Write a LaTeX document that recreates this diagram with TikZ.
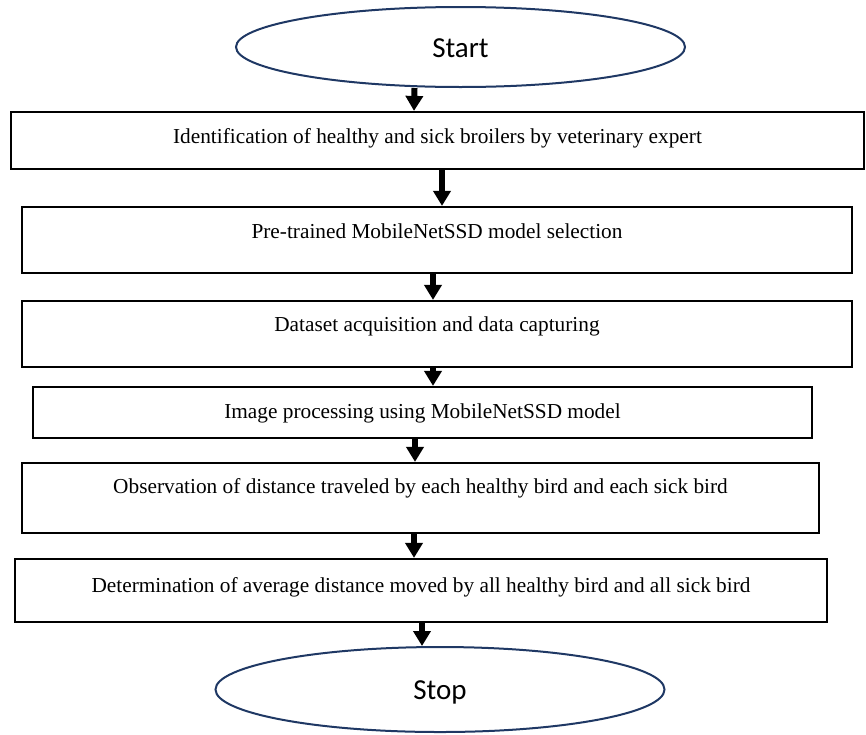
\documentclass[tikz,border=0pt]{standalone}
\usepackage{fontspec}
\setmainfont{Liberation Serif}
\newfontfamily\calibrifont{Carlito}
\usetikzlibrary{shapes.geometric, arrows.meta}
\definecolor{ovalblue}{HTML}{1F3864}

\begin{document}
\begin{tikzpicture}[x=1pt, y=-1pt,
    box/.style={draw, line width=2.2pt, inner sep=0pt, text height=15pt, font=\fontsize{21.3}{25}\selectfont},
    oval/.style={ellipse, draw=ovalblue, line width=2pt, inner sep=0pt, text height=20pt, text depth=0pt, font=\calibrifont\fontsize{29}{33}\selectfont},
    flow/.style={-{Triangle[width=17pt, length=15pt]}, line width=6pt}]
  \useasboundingbox (0,0) rectangle (866,734);
  \node[oval, minimum width=449pt, minimum height=80pt] (start) at (460.5,47) {Start};
  \node[box, minimum width=853pt, minimum height=57pt, text depth=10pt] (ident) at (437.5,140.5) {Identification of healthy and sick broilers by veterinary expert};
  \node[box, minimum width=830pt, minimum height=66pt, text depth=19pt] (model) at (437,240) {Pre-trained MobileNetSSD model selection};
  \node[box, minimum width=830pt, minimum height=66pt, text depth=21pt] (data) at (437,334) {Dataset acquisition and data capturing};
  \node[box, minimum width=779pt, minimum height=51pt, text depth=4pt] (proc) at (422.5,412.5) {Image processing using MobileNetSSD model};
  \node[box, minimum width=797pt, minimum height=70pt, text depth=25pt] (observ) at (420.5,498) {Observation of distance traveled by each healthy bird and each sick bird};
  \node[box, minimum width=812pt, minimum height=63pt, text depth=12pt] (average) at (421,590.5) {Determination of average distance moved by all healthy bird and all sick bird};
  \node[oval, minimum width=449pt, minimum height=85pt] (stop) at (440,689.5) {Stop};

  \draw[flow] ([xshift=-46pt]start.south) -- ([xshift=-23.5pt]ident.north);
  \draw[flow] ([xshift=4.5pt]ident.south) -- ([xshift=5pt]model.north);
  \draw[flow] ([xshift=-4pt]model.south) -- ([xshift=-4pt]data.north);
  \draw[flow] ([xshift=-4pt]data.south) -- ([xshift=10.5pt]proc.north);
  \draw[flow] ([xshift=-7.5pt]proc.south) -- ([xshift=-5.5pt]observ.north);
  \draw[flow] ([xshift=-6.5pt]observ.south) -- ([xshift=-7pt]average.north);
  \draw[flow] ([xshift=1pt]average.south) -- ([xshift=-18pt]stop.north);
\end{tikzpicture}
\end{document}
